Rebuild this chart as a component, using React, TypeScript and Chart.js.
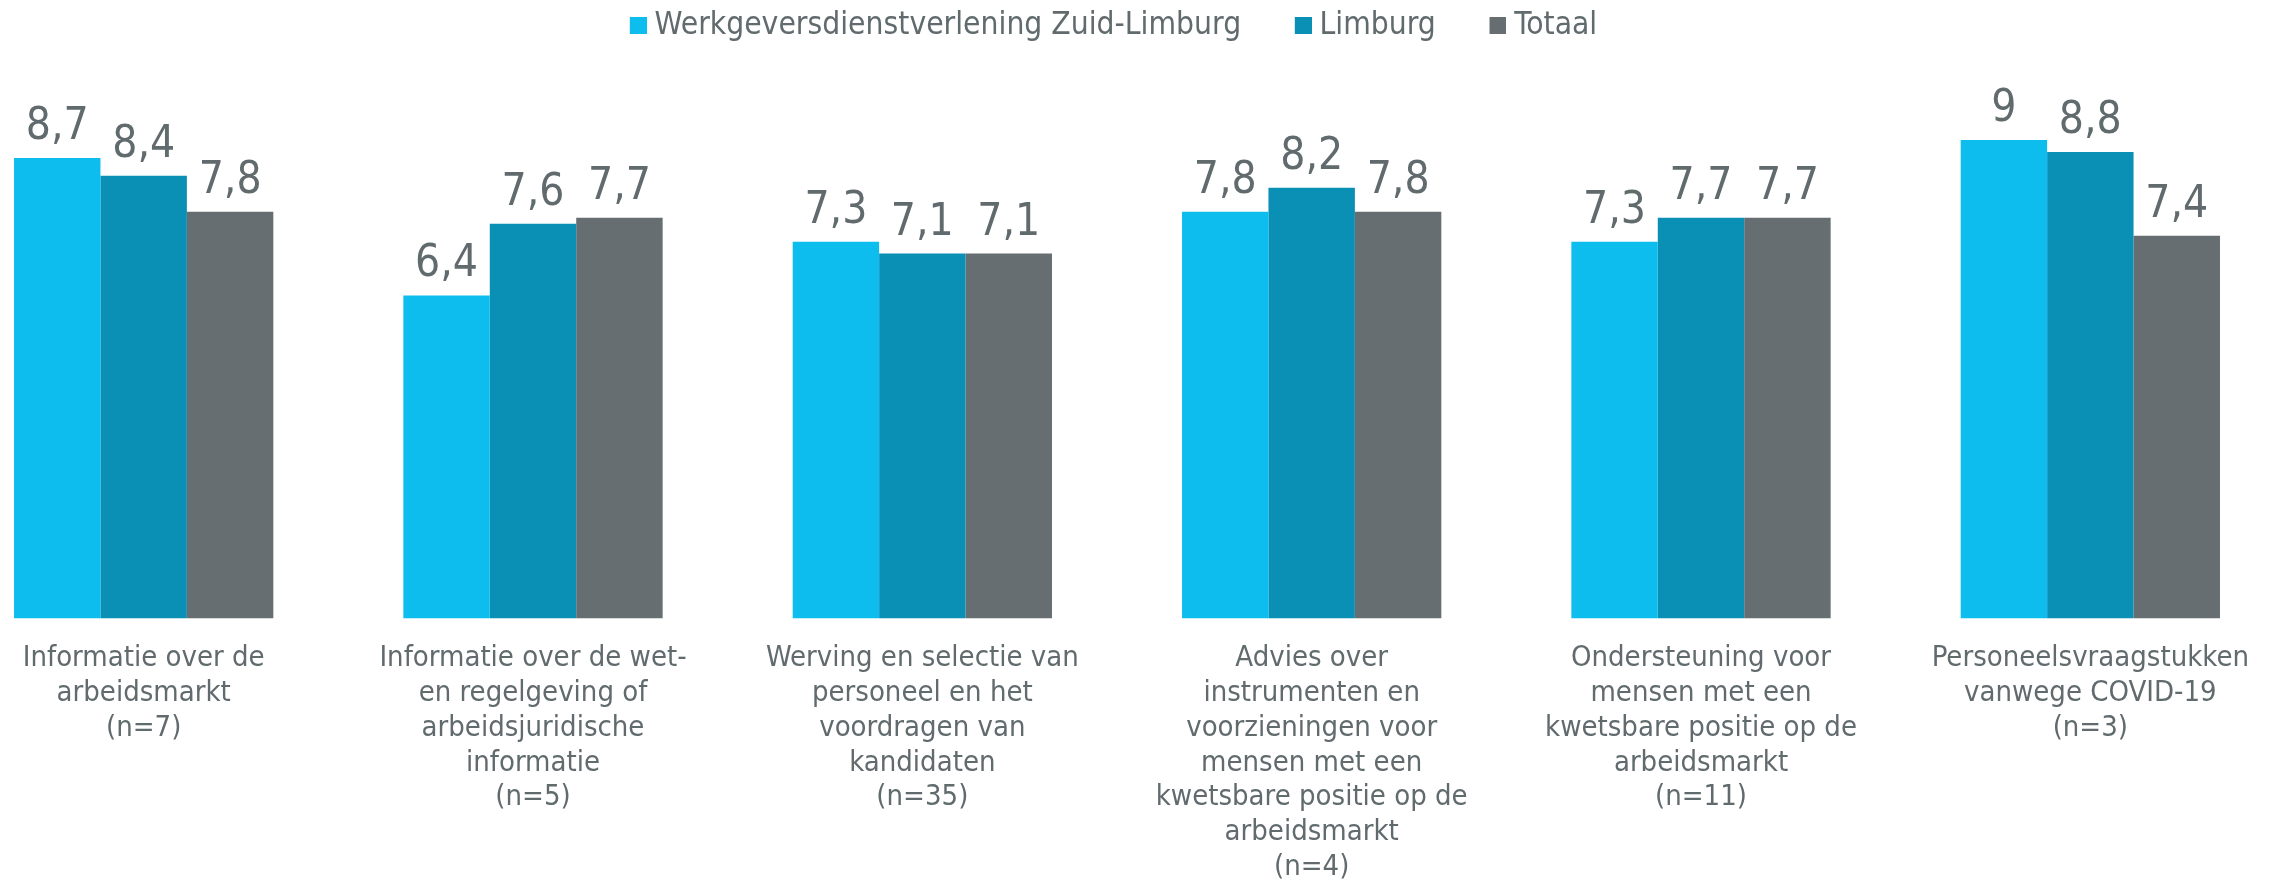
import React, { useEffect, useRef } from "react";
import { Chart, registerables } from "chart.js";

Chart.register(...registerables);

const categories: string[][] = [
  ["Informatie over de", "arbeidsmarkt", "(n=7)"],
  ["Informatie over de wet-", "en regelgeving of", "arbeidsjuridische", "informatie", "(n=5)"],
  ["Werving en selectie van", "personeel en het", "voordragen van", "kandidaten", "(n=35)"],
  ["Advies over", "instrumenten en", "voorzieningen voor", "mensen met een", "kwetsbare positie op de", "arbeidsmarkt", "(n=4)"],
  ["Ondersteuning voor", "mensen met een", "kwetsbare positie op de", "arbeidsmarkt", "(n=11)"],
  ["Personeelsvraagstukken", "vanwege COVID-19", "(n=3)"],
];

const seriesNames = ["Werkgeversdienstverlening Zuid-Limburg", "Limburg", "Totaal"];
const zuidLimburg = [8.7, 6.4, 7.3, 7.8, 7.3, 9];
const limburg = [8.4, 7.6, 7.1, 8.2, 7.7, 8.8];
const totaal = [7.8, 7.7, 7.1, 7.8, 7.7, 7.4];

const colors = ["#0DBDEE", "#0A8FB5", "#666E71"];
const textColor = "#616B6E";
const FONT = "'DejaVu Sans Condensed', 'Liberation Sans Narrow', 'DejaVu Sans', sans-serif";

function makeMarker(color: string): HTMLCanvasElement {
  const c = document.createElement("canvas");
  c.width = 18;
  c.height = 17;
  const ctx = c.getContext("2d")!;
  ctx.fillStyle = color;
  ctx.fillRect(1, 0, 17, 17);
  return c;
}

const valueLabels = {
  id: "valueLabels",
  afterDatasetsDraw(chart: any) {
    const ctx = chart.ctx;
    ctx.save();
    ctx.font = `44px ${FONT}`;
    ctx.fillStyle = textColor;
    ctx.textAlign = "center";
    ctx.textBaseline = "alphabetic";
    chart.data.datasets.forEach((ds: any, i: number) => {
      const meta = chart.getDatasetMeta(i);
      meta.data.forEach((el: any, j: number) => {
        const v = ds.data[j];
        ctx.fillText(String(v).replace(".", ","), el.x, el.y - 19);
      });
    });
    ctx.restore();
  },
};

export default function App() {
  const ref = useRef<HTMLCanvasElement>(null);
  useEffect(() => {
    document.body.style.margin = "0";
    const markers = colors.map(makeMarker);
    const chart = new Chart(ref.current!, {
      type: "bar",
      data: {
        labels: categories,
        datasets: [zuidLimburg, limburg, totaal].map((d, i) => ({
          label: seriesNames[i],
          data: d,
          backgroundColor: colors[i],
          borderWidth: 0,
          categoryPercentage: 0.666,
          barPercentage: 1,
        })),
      },
      options: {
        responsive: false,
        animation: false,
        layout: { padding: 0 },
        plugins: {
          legend: {
            position: "top",
            labels: {
              color: textColor,
              font: { family: FONT, size: 31.5 },
              usePointStyle: true,
              pointStyleWidth: 2,
              boxHeight: 17,
              padding: 10,
              generateLabels(chart: any) {
                const items = Chart.defaults.plugins.legend.labels.generateLabels(chart);
                return items.map((it: any, i: number) => ({
                  ...it,
                  pointStyle: markers[i],
                  text: i < items.length - 1 ? it.text + "     \u2009" : it.text,
                }));
              },
            },
          },
          tooltip: { enabled: false },
          title: { display: false },
        },
        scales: {
          y: {
            display: false,
            min: 1,
            max: 10.48,
          },
          x: {
            grid: { display: false },
            border: { display: false },
            ticks: {
              color: textColor,
              font: { family: FONT, size: 29, lineHeight: 1.2 },
              padding: 15,
              autoSkip: false,
              maxRotation: 0,
              minRotation: 0,
            },
            afterFit(scale: any) {
              scale.height = 881 - 618.3;
            },
          },
        },
      },
      plugins: [valueLabels],
    });
    return () => chart.destroy();
  }, []);
  return (
    <div style={{ position: "fixed", left: 0, top: 0, width: 2279, height: 881, overflow: "hidden", background: "#fff" }}>
      <canvas ref={ref} width={2336} height={881} style={{ position: "absolute", left: -51, top: 0, width: 2336, height: 881 }} />
    </div>
  );
}
